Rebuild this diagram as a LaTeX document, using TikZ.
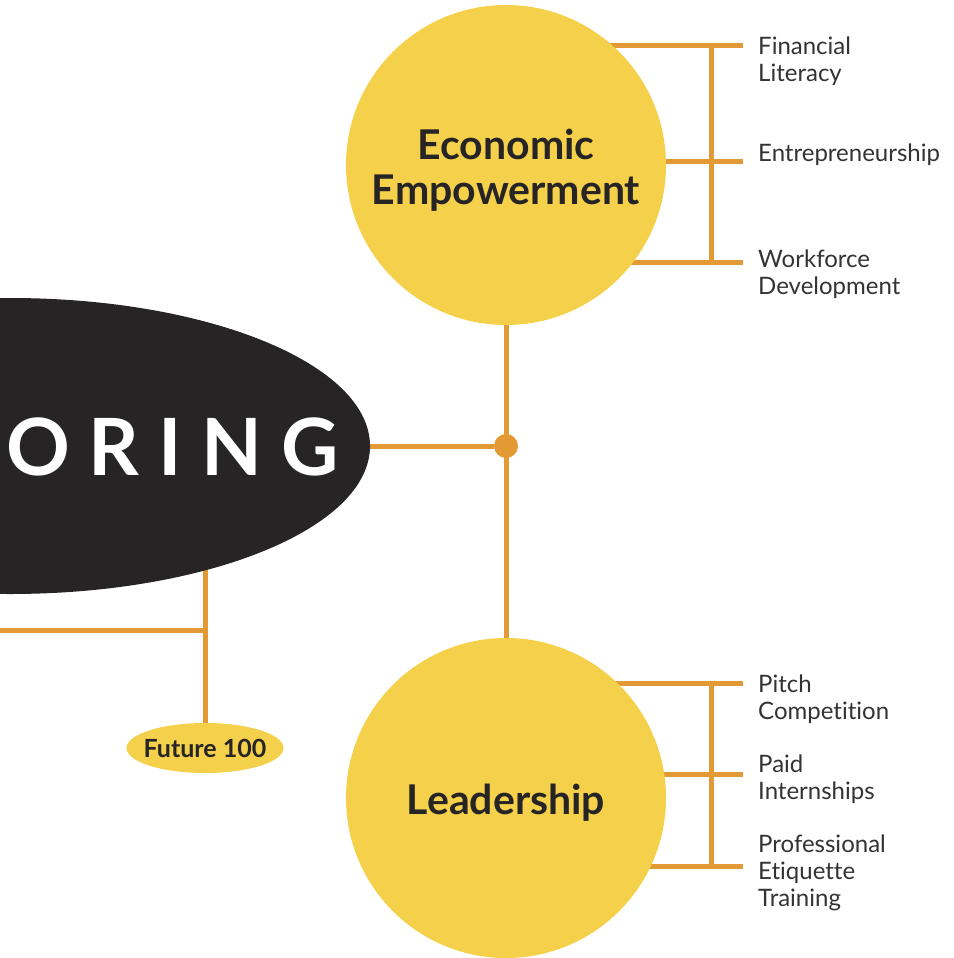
\documentclass[tikz,border=0pt]{standalone}
\usepackage{fontspec}
\setmainfont{Lato}[Ligatures=NoCommon]
\usepackage{tikz}
\usetikzlibrary{shapes,arrows,positioning,backgrounds}
\definecolor{gold}{HTML}{F5D04A}
\definecolor{amber}{HTML}{E39A35}
\definecolor{ink}{HTML}{262425}
\definecolor{leafgray}{HTML}{333333}

\begin{document}
\begin{tikzpicture}[x=1pt,y=-1pt,
	topic node/.style={circle, fill=gold, minimum size=320pt, inner sep=0pt},
	topic text/.style={inner sep=0pt, align=center, text=ink, yshift=-5pt, font=\fontsize{41}{45}\selectfont\bfseries},
	leaf node/.style={anchor=north west, inner sep=0pt, align=left, text=leafgray, font=\fontsize{24}{27}\selectfont},
	link/.style={draw=amber, line width=5pt}]
			\useasboundingbox (0,0) rectangle (953,958);
			\clip (0,0) rectangle (953,958);
			
			\node[ellipse, fill=ink, minimum width=720pt, minimum height=296pt] (core) at (10,446) {};
			\node[anchor=base west, inner sep=0pt, text=white, font=\fontsize{79}{79}\selectfont\bfseries\addfontfeature{LetterSpace=24}] (coretext) at (6,475) {ORING};
			\node[circle, fill=amber, minimum size=24pt, inner sep=0pt] (hub) at (506,446) {};
			
			\node[topic node] (econ) at (506,165) {};
			\node[topic text] (econtext) at (econ) {Economic\\Empowerment};
			\node[topic node] (lead) at (506,798) {};
			\node[topic text] (leadtext) at (lead) {Leadership};
			\node[ellipse, fill=gold, minimum width=157pt, minimum height=50pt, inner sep=0pt] (future) at (205,748) {};
			\node[inner sep=0pt, text=ink, font=\fontsize{25}{25}\selectfont\bfseries] (futuretext) at (future) {Future 100};
			
			\node[leaf node] (finlit) at (758,37) {Financial\\Literacy};
			\node[leaf node] (entre) at (758,144) {Entrepreneurship};
			\node[leaf node] (workdev) at (758,250) {Workforce\\Development};
			\node[leaf node] (pitch) at (758,675) {Pitch\\Competition};
			\node[leaf node] (intern) at (758,755) {Paid\\Internships};
			\node[leaf node] (etiq) at (758,835) {Professional\\Etiquette\\Training};
			
			% branch ends
			\coordinate (bar) at (711,0);
			\coordinate (e1) at (743,46);
			\coordinate (e2) at (743,161);
			\coordinate (e3) at (743,262);
			\coordinate (l1) at (743,683);
			\coordinate (l2) at (743,774);
			\coordinate (l3) at (743,866);
			\coordinate (fleft) at (0,630);
			
			\begin{scope}[on background layer]
			\path[link]
			(core) -- (hub)
			(econ) -- (lead)
			(future) -- (future |- core)
			(fleft) -- (fleft -| future)
			
			(e1) -- (e1 -| econ)
			(e2) -- (e2 -| econ)
			(e3) -- (e3 -| econ)
			(e1 -| bar) -- (e3 -| bar)
			
			(l1) -- (l1 -| lead)
			(l2) -- (l2 -| lead)
			(l3) -- (l3 -| lead)
			(l1 -| bar) -- (l3 -| bar);
			\end{scope}
\end{tikzpicture}
\end{document}
